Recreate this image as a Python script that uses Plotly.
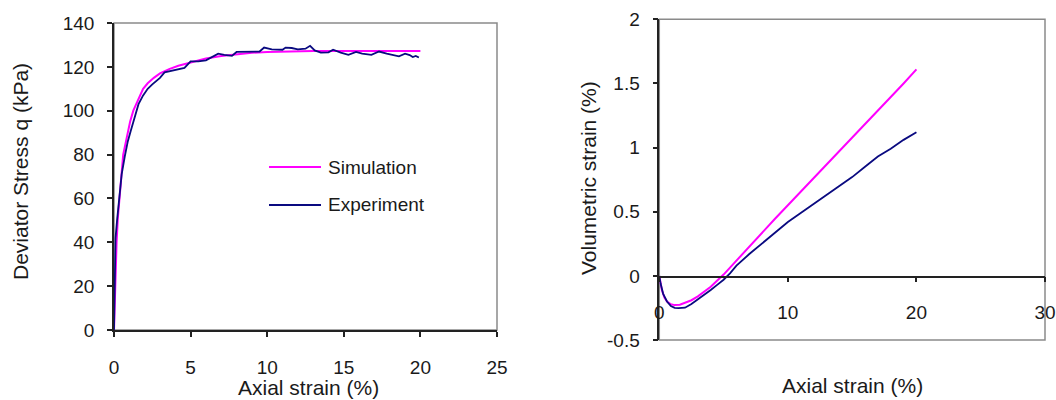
import plotly.graph_objects as go

# Deviator stress vs axial strain
sim_q_x = [0, 0.05, 0.1, 0.17, 0.25, 0.35, 0.45, 0.6, 0.75, 0.9, 1.05, 1.26, 1.5, 1.9, 2.2, 2.6, 3.0, 3.6, 4.2, 5.0, 6.0, 7.0, 8.0, 9.0, 10.0, 11.0, 13.0, 15.0, 17.0, 20.0]
sim_q_y = [0, 15, 28, 40, 51, 60, 68, 80, 85, 90, 95, 100, 104, 110, 112.5, 115, 117, 119, 120.5, 122, 123.8, 125, 125.8, 126.4, 126.8, 127, 127.2, 127.2, 127.2, 127.2]

exp_q_x = [0, 0.03, 0.06, 0.1, 0.2, 0.3, 0.4, 0.5, 0.7, 0.9, 1.1, 1.3, 1.6, 1.9, 2.2, 2.5, 2.8, 3.0, 3.3, 3.6, 3.9, 4.2, 4.6, 5.0, 5.5, 6.0, 6.3, 6.6, 6.8, 7.2, 7.7, 8.0, 8.5, 9.0, 9.5, 9.8, 10.3, 11.0, 11.2, 11.6, 12.0, 12.5, 12.8, 13.1, 13.5, 14.0, 14.3, 14.8, 15.3, 15.8, 16.2, 16.8, 17.3, 17.8, 18.3, 18.6, 19.0, 19.3, 19.5, 19.7, 19.9]
exp_q_y = [0, 20, 35, 42, 50, 58, 65, 71, 79, 86, 91, 96, 103, 107, 110, 112, 114, 115, 117.5, 118, 118.3, 119, 119.5, 122.5, 122.5, 123, 124, 125, 126, 125.5, 125, 126.8, 126.8, 127, 127, 128.8, 128, 127.8, 128.8, 128.6, 128, 128.3, 129.6, 127.5, 126.5, 126.6, 127.8, 126.5, 125.5, 126.8, 126, 125.5, 127, 126, 125.4, 124.8, 126, 125.4, 124.5, 125, 124.3]

# Volumetric strain vs axial strain
sim_v_x = [0, 0.1, 0.2, 0.4, 0.6, 0.9, 1.2, 1.6, 2.0, 2.5, 3.0, 4.0, 5.0, 6.0, 7.0, 8.0, 9.0, 10.0, 11.0, 12.0, 13.0, 14.0, 15.0, 16.0, 17.0, 18.0, 19.0, 20.0]
sim_v_y = [0, -0.06, -0.11, -0.17, -0.2, -0.222, -0.228, -0.225, -0.21, -0.19, -0.16, -0.085, 0.01, 0.12, 0.23, 0.34, 0.445, 0.55, 0.655, 0.76, 0.865, 0.97, 1.08, 1.185, 1.29, 1.395, 1.5, 1.61]

exp_v_x = [0, 0.1, 0.3, 0.6, 0.9, 1.2, 1.5, 2.0, 2.5, 3.0, 3.5, 4.0, 4.5, 5.0, 5.5, 6.0, 7.0, 8.0, 9.0, 10.0, 11.0, 12.0, 13.0, 14.0, 15.0, 16.0, 17.0, 18.0, 19.0, 20.0]
exp_v_y = [0, -0.06, -0.14, -0.2, -0.235, -0.25, -0.252, -0.248, -0.22, -0.185, -0.15, -0.11, -0.07, -0.03, 0.02, 0.08, 0.17, 0.255, 0.34, 0.42, 0.49, 0.56, 0.63, 0.7, 0.77, 0.85, 0.93, 0.99, 1.06, 1.12]

q_ticks = [0, 20, 40, 60, 80, 100, 120, 140]
ax_ticks_left = [0, 5, 10, 15, 20, 25]
v_ticks = [-0.5, 0, 0.5, 1, 1.5, 2]
v_tick_text = ["-0.5", "0", "0.5", "1", "1.5", "2"]
ax_ticks_right = [0, 10, 20, 30]

PINK = "#ff00ff"
NAVY = "#0a0a80"
FONT = "Liberation Sans, Arial, sans-serif"
TXT = "#1a1a1a"
GRAY = "#8a8a8a"

fig = go.Figure()
fig.add_trace(go.Scatter(x=sim_q_x, y=sim_q_y, mode="lines", line=dict(color=PINK, width=2), xaxis="x", yaxis="y", name="Simulation"))
fig.add_trace(go.Scatter(x=exp_q_x, y=exp_q_y, mode="lines", line=dict(color=NAVY, width=1.8), xaxis="x", yaxis="y", name="Experiment"))
fig.add_trace(go.Scatter(x=sim_v_x, y=sim_v_y, mode="lines", line=dict(color=PINK, width=2), xaxis="x2", yaxis="y2", name="Simulation"))
fig.add_trace(go.Scatter(x=exp_v_x, y=exp_v_y, mode="lines", line=dict(color=NAVY, width=1.8), xaxis="x2", yaxis="y2", name="Experiment"))

L_X = [114 / 1056, 497 / 1056]
L_Y = [(400 - 330) / 400, (400 - 23) / 400]
R_X = [659.3 / 1056, 1045 / 1056]
R_Y = [(400 - 340) / 400, (400 - 19.3) / 400]
zero_pos = (400 - 276.7) / 400

tickfont = dict(family=FONT, size=19, color=TXT)
common = dict(showgrid=False, zeroline=False, ticks="outside", ticklen=5, tickwidth=1.5,
              tickcolor="#222", showline=True, linecolor="#222", linewidth=1.5, tickfont=tickfont,
              automargin=False)

fig.update_layout(
    width=1056, height=400, margin=dict(l=0, r=0, t=0, b=0, autoexpand=False),
    paper_bgcolor="white", plot_bgcolor="white", showlegend=False,
    xaxis=dict(domain=L_X, range=[0, 25], tickvals=ax_ticks_left, anchor="y", ticklabelstandoff=14, **common),
    yaxis=dict(domain=L_Y, range=[0, 140], tickvals=q_ticks, anchor="x", ticklabelstandoff=9, **common),
    xaxis2=dict(domain=R_X, range=[0, 30], tickvals=ax_ticks_right, anchor="free", position=zero_pos, ticklabelstandoff=14, **common),
    yaxis2=dict(domain=R_Y, range=[-0.5, 2], tickvals=v_ticks, ticktext=v_tick_text, anchor="x2", ticklabelstandoff=9, **common),
)

# plot frames (grey)
fig.add_shape(type="rect", xref="x domain", yref="y domain", x0=0, x1=1, y0=0, y1=1,
              line=dict(color=GRAY, width=1.5), layer="below")
fig.add_shape(type="rect", xref="x2 domain", yref="y2 domain", x0=0, x1=1, y0=0, y1=1,
              line=dict(color=GRAY, width=1.5), layer="below")

# axis titles
fig.add_annotation(text="Deviator Stress q (kPa)", xref="paper", yref="paper", x=20 / 1056, y=(400 - 172) / 400,
                   textangle=-90, showarrow=False, font=dict(family=FONT, size=21, color=TXT), xanchor="center", yanchor="middle")
fig.add_annotation(text="Axial strain (%)", xref="paper", yref="paper", x=308 / 1056, y=(400 - 387) / 400,
                   showarrow=False, font=dict(family=FONT, size=21, color=TXT), xanchor="center", yanchor="middle")
fig.add_annotation(text="Volumetric strain (%)", xref="paper", yref="paper", x=589 / 1056, y=(400 - 178) / 400,
                   textangle=-90, showarrow=False, font=dict(family=FONT, size=21, color=TXT), xanchor="center", yanchor="middle")
fig.add_annotation(text="Axial strain (%)", xref="paper", yref="paper", x=852 / 1056, y=(400 - 385) / 400,
                   showarrow=False, font=dict(family=FONT, size=21, color=TXT), xanchor="center", yanchor="middle")

# legend (left panel)
legend_items = [("Simulation", PINK, 2, 167), ("Experiment", NAVY, 2, 205)]
for label, col, w, ypx in legend_items:
    fig.add_shape(type="line", xref="paper", yref="paper", x0=269 / 1056, x1=321 / 1056,
                  y0=(400 - ypx) / 400, y1=(400 - ypx) / 400, line=dict(color=col, width=w))
    fig.add_annotation(text=label, xref="paper", yref="paper", x=326 / 1056, y=(400 - ypx) / 400,
                       showarrow=False, xanchor="left", yanchor="middle",
                       font=dict(family=FONT, size=19, color=TXT))

fig.write_html("out.html")
